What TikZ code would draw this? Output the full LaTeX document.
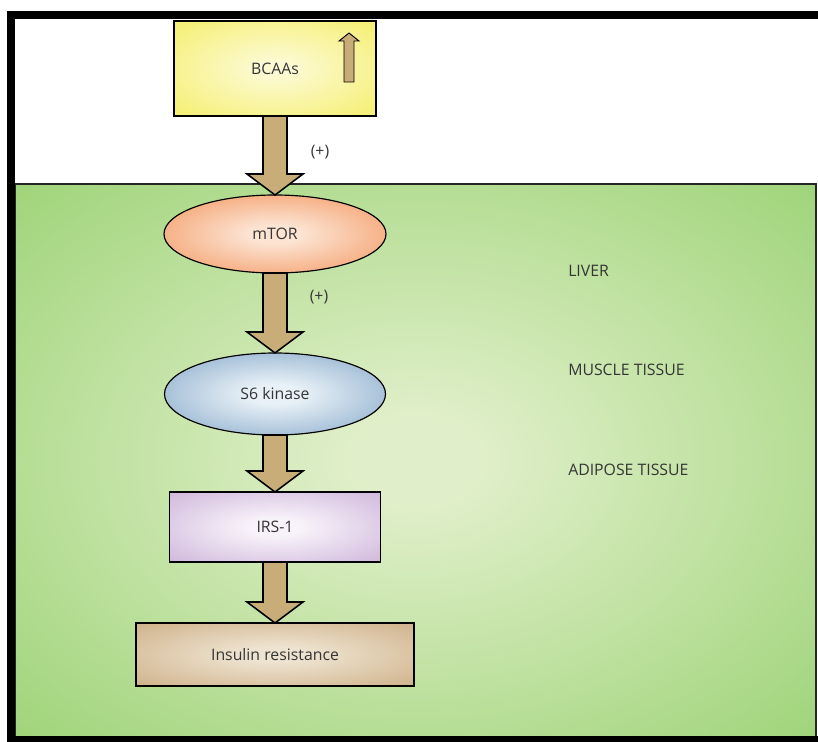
\documentclass[tikz,border=0pt]{standalone}
\usepackage{fontspec}
\setmainfont{Open Sans}
\usepackage{tikz}
\usetikzlibrary{positioning}
\usetikzlibrary{calc, shapes.geometric}

\definecolor{txt}{HTML}{353535}
\definecolor{tan}{HTML}{C8AD78}
\definecolor{glIn}{HTML}{E0EFC9}
\definecolor{glOut}{HTML}{9AD273}
\definecolor{yeIn}{HTML}{FCFAD2}
\definecolor{yeOut}{HTML}{F6F07A}
\definecolor{orIn}{HTML}{FCE3D2}
\definecolor{orOut}{HTML}{F39A64}
\definecolor{blIn}{HTML}{E8F1F7}
\definecolor{blOut}{HTML}{8AABCB}
\definecolor{liIn}{HTML}{F8F3FA}
\definecolor{liOut}{HTML}{D2BADD}
\definecolor{brIn}{HTML}{EEE3D0}
\definecolor{brOut}{HTML}{D1B48E}

\pgfdeclareradialshading{greenglow}{\pgfpoint{0bp}{0bp}}{color(0bp)=(glIn); color(4bp)=(glIn); color(38bp)=(glOut); color(50bp)=(glOut)}
\pgfdeclareradialshading{yellowglow}{\pgfpoint{0bp}{0bp}}{color(0bp)=(yeIn); color(4bp)=(yeIn); color(32bp)=(yeOut); color(50bp)=(yeOut)}
\pgfdeclareradialshading{orangeglow}{\pgfpoint{0bp}{0bp}}{color(0bp)=(orIn); color(6bp)=(orIn); color(34bp)=(orOut); color(50bp)=(orOut)}
\pgfdeclareradialshading{blueglow}{\pgfpoint{0bp}{0bp}}{color(0bp)=(blIn); color(6bp)=(blIn); color(34bp)=(blOut); color(50bp)=(blOut)}
\pgfdeclareradialshading{lilacglow}{\pgfpoint{0bp}{0bp}}{color(0bp)=(liIn); color(6bp)=(liIn); color(34bp)=(liOut); color(50bp)=(liOut)}
\pgfdeclareradialshading{brownglow}{\pgfpoint{0bp}{0bp}}{color(0bp)=(brIn); color(6bp)=(brIn); color(34bp)=(brOut); color(50bp)=(brOut)}

% fat arrow from the bottom of #1 to the top of #2
\newcommand{\fatdown}[2]{%
    \draw[fat] let \p1=(#1.south), \p2=(#2.north) in
        (\x1-0.36cm,\y1) -- (\x1-0.36cm,\y2+0.63cm) -- (\x1-0.84cm,\y2+0.63cm)
        -- (\x1,\y2) -- (\x1+0.84cm,\y2+0.63cm) -- (\x1+0.36cm,\y2+0.63cm)
        -- (\x1+0.36cm,\y1) -- cycle;}

\begin{document}
\begin{tikzpicture}[
            font=\fontsize{13.5}{16}\selectfont, % label size
            text=txt,
            semithick, % line style
            box/.style={rectangle, draw, line width=1pt, outer sep=0pt},
            oval/.style={ellipse, draw, line width=1pt, outer sep=0pt, inner sep=0pt},
            fat/.style={draw=black, fill=tan, line width=1.3pt, line join=miter}
        ]

        \useasboundingbox (0,0) rectangle (24.54,-22.26);

        % tissue area
        \draw[shading=greenglow, draw=black!85, line width=1pt] (0.45,-5.52) rectangle (24.48,-22.11);
        \draw[line width=0.24cm] (24.6,-0.45) -- (0.33,-0.45) -- (0.33,-22.2) -- (24.6,-22.2);

        \node[box, shading=yellowglow, minimum width=6.06cm, minimum height=2.85cm] (B) at (8.25,-2.055) {BCAAs};
        \node[oval, shading=orangeglow, minimum width=6.66cm, minimum height=2.34cm] (M) [below=2.37cm of B] {mTOR};
        \node[oval, shading=blueglow, minimum width=6.63cm, minimum height=2.46cm] (S) [below=2.4cm of M] {S6 kinase};
        \node[box, shading=lilacglow, minimum width=6.33cm, minimum height=2.1cm] (R) [below=1.71cm of S] {IRS-1};
        \node[box, shading=brownglow, minimum width=8.34cm, minimum height=1.89cm] (IR) [below=1.83cm of R] {Insulin resistance};

        \fatdown{B}{M}
        \fatdown{M}{S}
        \fatdown{S}{R}
        \fatdown{R}{IR}

        % small up arrow in the BCAAs box
        \coordinate (up) at ($(B.east)+(-0.81,-0.405)$);
        \draw[fat, line width=0.8pt] (up) ++(-0.15,0) -- ++(0,1.23) -- ++(-0.15,0) -- ++(0.3,0.24)
            -- ++(0.3,-0.24) -- ++(-0.15,0) -- ++(0,-1.23) -- cycle;

        \node (P1) at ($(B.south)+(1.35,-1.08)$) {(+)};
        \node (P2) at ($(M.south)+(1.32,-0.72)$) {(+)};

        \node[anchor=west] (LV) at (16.92,-8.13) {LIVER};
        \node[anchor=west] (MU) at (16.92,-11.1) {MUSCLE TISSUE};
        \node[anchor=west] (AD) at (16.92,-14.1) {ADIPOSE TISSUE};

\end{tikzpicture}
\end{document}
